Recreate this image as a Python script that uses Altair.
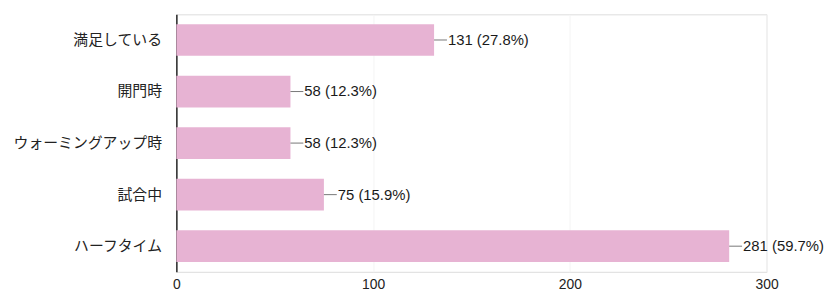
import altair as alt
import pandas as pd

categories = ["満足している", "開門時", "ウォーミングアップ時", "試合中", "ハーフタイム"]
counts = [131, 58, 58, 75, 281]
percents = ["27.8%", "12.3%", "12.3%", "15.9%", "59.7%"]
x_ticks = [0, 100, 200, 300]

df = pd.DataFrame({
    "category": categories,
    "count": counts,
    "label": [f"{c} ({p})" for c, p in zip(counts, percents)],
})

FONT = "Liberation Sans, Arial, Noto Sans CJK JP"

y_enc = alt.Y(
    "category:N",
    sort=categories,
    title=None,
    scale=alt.Scale(paddingInner=0.385, paddingOuter=0.19),
    axis=alt.Axis(
        domain=True, domainColor="#333333", domainWidth=1.6,
        ticks=False, labelPadding=15, labelFontSize=15,
        labelColor="#222222", labelFont=FONT, grid=False,
    ),
)

x_enc = alt.X(
    "count:Q",
    title=None,
    scale=alt.Scale(domain=[0, 300], nice=False),
    axis=alt.Axis(
        values=x_ticks, domain=False, ticks=False, labelPadding=6,
        labelFlush=False,
        labelFontSize=14, labelColor="#222222", labelFont=FONT,
        grid=True, gridColor="#f4f4f4", gridWidth=1,
    ),
)

base = alt.Chart(df)

bars = base.mark_bar(color="#e7b3d3").encode(x=x_enc, y=y_enc)

leaders = base.mark_rule(color="#777777", strokeWidth=1, x2Offset=13).encode(
    x="count:Q", x2="count:Q", y=alt.Y("category:N", sort=categories)
)

texts = base.mark_text(
    align="left", baseline="middle", dx=14, fontSize=15,
    color="#1a1a1a", font=FONT,
).encode(x="count:Q", y=alt.Y("category:N", sort=categories), text="label:N")

chart = (
    alt.layer(bars, leaders, texts)
    .properties(
        width=596, height=260,
        autosize=alt.AutoSizeParams(type="none"),
        padding={"left": 170, "top": 5, "right": 58, "bottom": 22},
    )
    .configure_view(stroke=None)
    .configure(background="white")
)

chart.save("out.html", embed_options={"renderer": "svg", "actions": False})
